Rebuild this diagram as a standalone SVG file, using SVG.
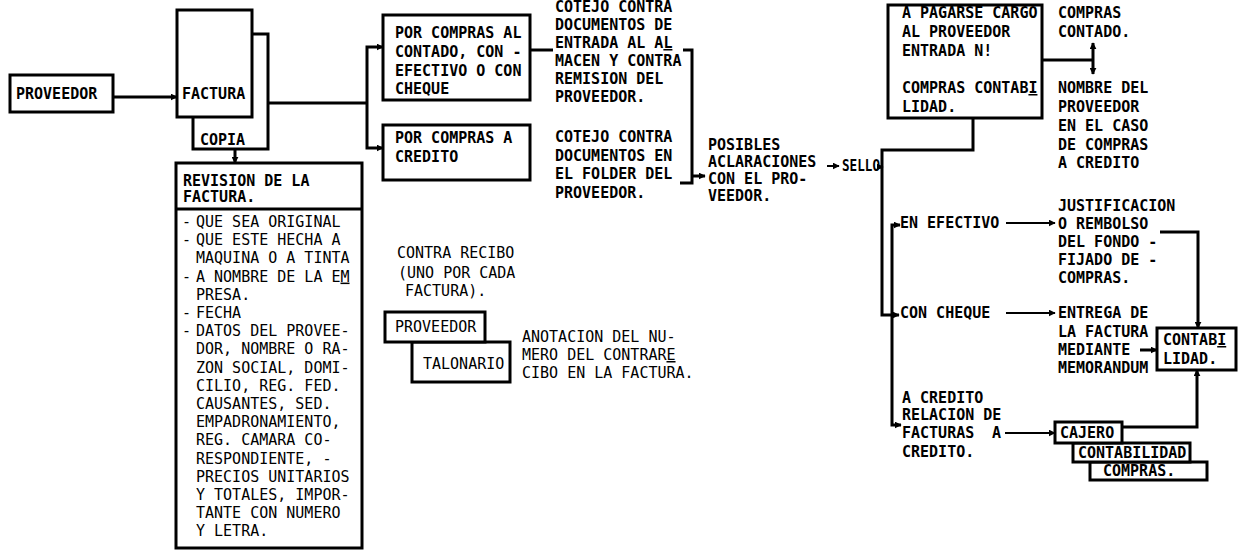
<svg xmlns="http://www.w3.org/2000/svg" width="1239" height="558" viewBox="0 0 1239 558">
<style>
text{font-family:"DejaVu Sans Mono","Liberation Mono",monospace;font-size:15px;font-weight:bold;fill:#000}
.n{font-weight:normal}
.box{fill:#fff;stroke:#000;stroke-width:3}
.c{fill:none;stroke:#000;stroke-width:3}
.c2{fill:none;stroke:#000;stroke-width:2}
.u{text-decoration:underline}
</style>
<defs>
<marker id="ah" viewBox="0 0 10 10" refX="9" refY="5" markerWidth="7" markerHeight="7" markerUnits="userSpaceOnUse" orient="auto-start-reverse"><path d="M0,0 L10,5 L0,10 z" fill="#000"/></marker>
</defs>
<rect width="1239" height="558" fill="#fff"/>
<g id="connectors">
<path class="c" d="M113,97 H177" marker-end="url(#ah)"/>
<path class="c" d="M252,103 H367"/>
<path class="c" d="M367,103 V47 H383" marker-end="url(#ah)"/>
<path class="c" d="M367,103 V148 H383" marker-end="url(#ah)"/>
<path class="c" d="M235,149 V163" marker-end="url(#ah)"/>
<path class="c" d="M530,50 H553"/>
<path class="c" d="M683,50 H692 V183 H680"/>
<path class="c" d="M692,176 H705" marker-end="url(#ah)"/>
<path class="c2" d="M827,166 H839" marker-end="url(#ah)"/>
<path class="c" d="M877,167 H883" marker-end="url(#ah)"/>
<path class="c" d="M973,118 V150 H882 V315 H899" marker-end="url(#ah)"/>
<path class="c" d="M900,225 H892 V425 H901" marker-start="url(#ah)" marker-end="url(#ah)"/>
<path class="c2" d="M1006,223 H1055" marker-end="url(#ah)"/>
<path class="c2" d="M1006,313 H1055" marker-end="url(#ah)"/>
<path class="c" d="M1160,232 H1198 V328" marker-end="url(#ah)"/>
<path class="c" d="M1140,350 H1157" marker-end="url(#ah)"/>
<path class="c" d="M1122,427 H1197 V370" marker-end="url(#ah)"/>
<path class="c2" d="M1005,433 H1055" marker-end="url(#ah)"/>
<path class="c" d="M1043,60 H1093"/>
<path class="c" d="M1093,60 V43" marker-end="url(#ah)"/>
<path class="c" d="M1093,60 V74" marker-end="url(#ah)"/>
</g>
<g id="proveedor">
<rect class="box" x="10" y="75" width="103" height="37"/>
<text x="16" y="99">PROVEEDOR</text>
</g>
<g id="factura">
<rect class="box" x="193" y="34" width="75" height="115"/>
<rect class="box" x="177" y="10" width="75" height="107"/>
<text x="182" y="99">FACTURA</text>
<text x="200" y="145">COPIA</text>
</g>
<g id="revision">
<rect class="box" x="176" y="163" width="186" height="385"/>
<line x1="176" y1="209" x2="362" y2="209" stroke="#000" stroke-width="3"/>
<text x="183" y="186">REVISION DE LA</text>
<text x="183" y="202">FACTURA.</text>
<text class="n" y="227"><tspan x="182">-</tspan><tspan x="196">QUE SEA ORIGINAL</tspan></text>
<text class="n" y="245.2"><tspan x="182">-</tspan><tspan x="196">QUE ESTE HECHA A</tspan></text>
<text class="n" x="196" y="263.4">MAQUINA O A TINTA</text>
<text class="n" y="281.6"><tspan x="182">-</tspan><tspan x="196">A NOMBRE DE LA E</tspan><tspan class="u">M</tspan></text>
<text class="n" x="196" y="299.8">PRESA.</text>
<text class="n" y="318"><tspan x="182">-</tspan><tspan x="196">FECHA</tspan></text>
<text class="n" y="336.2"><tspan x="182">-</tspan><tspan x="196">DATOS DEL PROVEE-</tspan></text>
<text class="n" x="196" y="354.4">DOR, NOMBRE O RA-</text>
<text class="n" x="196" y="372.6">ZON SOCIAL, DOMI-</text>
<text class="n" x="196" y="390.8">CILIO, REG. FED.</text>
<text class="n" x="196" y="409">CAUSANTES, SED.</text>
<text class="n" x="196" y="427.2">EMPADRONAMIENTO,</text>
<text class="n" x="196" y="445.4">REG. CAMARA CO-</text>
<text class="n" x="196" y="463.6">RESPONDIENTE, -</text>
<text class="n" x="196" y="481.8">PRECIOS UNITARIOS</text>
<text class="n" x="196" y="500">Y TOTALES, IMPOR-</text>
<text class="n" x="196" y="518.2">TANTE CON NUMERO</text>
<text class="n" x="196" y="536.4">Y LETRA.</text>
</g>
<g id="contado">
<rect class="box" x="383" y="15" width="147" height="85"/>
<text x="395" y="38">POR COMPRAS AL</text>
<text x="395" y="57">CONTADO, CON -</text>
<text x="395" y="75.5">EFECTIVO O CON</text>
<text x="395" y="94">CHEQUE</text>
</g>
<g id="credito">
<rect class="box" x="383" y="125" width="147" height="55"/>
<text x="395" y="143">POR COMPRAS A</text>
<text x="395" y="161.5">CREDITO</text>
</g>
<g id="cotejo1">
<text x="555" y="12">COTEJO CONTRA</text>
<text x="555" y="30">DOCUMENTOS DE</text>
<text x="555" y="48">ENTRADA AL A<tspan class="u">L</tspan></text>
<text x="555" y="66">MACEN Y CONTRA</text>
<text x="555" y="84">REMISION DEL</text>
<text x="555" y="102">PROVEEDOR.</text>
</g>
<g id="cotejo2">
<text x="555" y="142">COTEJO CONTRA</text>
<text x="555" y="160.5">DOCUMENTOS EN</text>
<text x="555" y="179">EL FOLDER DEL</text>
<text x="555" y="197.5">PROVEEDOR.</text>
</g>
<g id="aclaraciones">
<text x="708" y="150">POSIBLES</text>
<text x="708" y="167">ACLARACIONES</text>
<text x="708" y="184">CON EL PRO-</text>
<text x="708" y="201">VEEDOR.</text>
</g>
<g id="sello">
<text x="842" y="171" textLength="38" lengthAdjust="spacingAndGlyphs">SELLO</text>
</g>
<g id="contrarecibo">
<text class="n" x="397" y="258">CONTRA RECIBO</text>
<text class="n" x="398" y="278">(UNO POR CADA</text>
<text class="n" x="405" y="296">FACTURA).</text>
</g>
<g id="talonario">
<rect class="box" x="412" y="342" width="98" height="40"/>
<text class="n" x="423" y="369">TALONARIO</text>
</g>
<g id="proveedor2">
<rect class="box" x="385" y="312" width="100" height="30"/>
<text class="n" x="395" y="332">PROVEEDOR</text>
</g>
<g id="anotacion">
<text class="n" x="522" y="342">ANOTACION DEL NU-</text>
<text class="n" x="522" y="360">MERO DEL CONTRAR<tspan class="u">E</tspan></text>
<text class="n" x="522" y="378">CIBO EN LA FACTURA.</text>
</g>
<g id="pagarse">
<rect class="box" x="888" y="5" width="154" height="113"/>
<text x="902" y="18">A PAGARSE CARGO</text>
<text x="902" y="37">AL PROVEEDOR</text>
<text x="902" y="56">ENTRADA N!</text>
<text x="902" y="93">COMPRAS CONTAB<tspan class="u">I</tspan></text>
<text x="902" y="112">LIDAD.</text>
</g>
<g id="comprascontado">
<text x="1058" y="18">COMPRAS</text>
<text x="1058" y="37">CONTADO.</text>
</g>
<g id="nombre">
<text x="1058" y="93">NOMBRE DEL</text>
<text x="1058" y="112">PROVEEDOR</text>
<text x="1058" y="131">EN EL CASO</text>
<text x="1058" y="150">DE COMPRAS</text>
<text x="1058" y="168">A CREDITO</text>
</g>
<g id="efectivo">
<text x="900" y="228">EN EFECTIVO</text>
</g>
<g id="justificacion">
<text x="1058" y="211">JUSTIFICACION</text>
<text x="1058" y="229">O REMBOLSO</text>
<text x="1058" y="247">DEL FONDO -</text>
<text x="1058" y="265">FIJADO DE -</text>
<text x="1058" y="283">COMPRAS.</text>
</g>
<g id="cheque">
<text x="900" y="318">CON CHEQUE</text>
</g>
<g id="entrega">
<text x="1058" y="318">ENTREGA DE</text>
<text x="1058" y="337">LA FACTURA</text>
<text x="1058" y="355">MEDIANTE</text>
<text x="1058" y="373">MEMORANDUM</text>
</g>
<g id="contabilidad">
<rect class="box" x="1157" y="328" width="79" height="42"/>
<text x="1163" y="345">CONTAB<tspan class="u">I</tspan></text>
<text x="1163" y="364">LIDAD.</text>
</g>
<g id="acredito">
<text x="902" y="403">A CREDITO</text>
<text x="902" y="420">RELACION DE</text>
<text y="438"><tspan x="902">FACTURAS</tspan><tspan x="992">A</tspan></text>
<text x="902" y="457">CREDITO.</text>
</g>
<g id="compras3">
<rect class="box" x="1090" y="462" width="117" height="18"/>
<text x="1103" y="476">COMPRAS.</text>
</g>
<g id="contabilidad2">
<rect class="box" x="1073" y="443" width="117" height="19"/>
<text x="1078" y="458">CONTABILIDAD</text>
</g>
<g id="cajero">
<rect class="box" x="1055" y="422" width="67" height="21"/>
<text x="1060" y="438">CAJERO</text>
</g>
</svg>
